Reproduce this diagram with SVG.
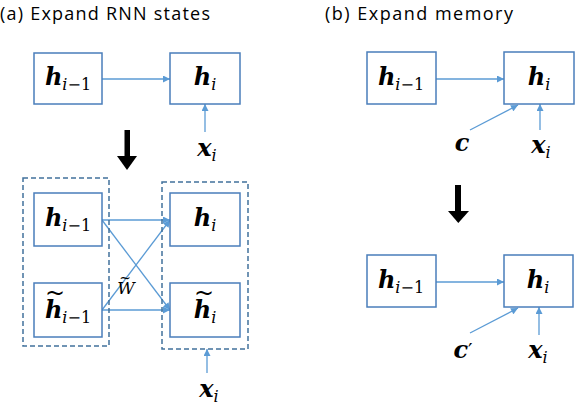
<svg xmlns="http://www.w3.org/2000/svg" width="576" height="406" viewBox="0 0 576 406">
<style>
.box{fill:#fff;stroke:#4a7ebb;stroke-width:1.5}
.dash{fill:none;stroke:#41719c;stroke-width:1.5;stroke-dasharray:5,3}
.ln{fill:none;stroke:#5b9bd5;stroke-width:1.3;marker-end:url(#ah)}
.title{font-family:"Open Sans","Liberation Sans",sans-serif;font-size:18px;fill:#000}
.m{font-family:"DejaVu Serif","Liberation Serif",serif;font-size:24px;font-weight:bold;font-style:italic;fill:#000;text-anchor:middle}
.sub{font-size:16px;font-weight:normal}
.it{font-style:italic}
.up{font-style:normal}
.tl{font-weight:normal;font-style:normal}
.big{fill:#000}
</style>
<defs>
<marker id="ah" viewBox="0 0 10 10" refX="10" refY="5" markerWidth="8" markerHeight="7" markerUnits="userSpaceOnUse" orient="auto">
<path d="M0,0 L10,5 L0,10 z" fill="#5b9bd5"/>
</marker>
</defs>
<text class="title" x="0" y="19.5" textLength="210" lengthAdjust="spacing">(a) Expand RNN states</text>
<text class="title" x="325" y="19.5" textLength="188" lengthAdjust="spacing">(b) Expand memory</text>
<g id="connectors">
<line class="ln" x1="102" y1="79" x2="170" y2="79"/>
<line class="ln" x1="205" y1="132" x2="205" y2="104"/>
<line class="ln" x1="102" y1="220" x2="170" y2="220"/>
<line class="ln" x1="102" y1="310" x2="170" y2="310"/>
<line class="ln" x1="102" y1="220" x2="170" y2="310"/>
<line class="ln" x1="102" y1="310" x2="170" y2="220"/>
<line class="ln" x1="207" y1="373" x2="207" y2="349"/>
<line class="ln" x1="436" y1="79" x2="504" y2="79"/>
<line class="ln" x1="470" y1="130" x2="518" y2="105"/>
<line class="ln" x1="540" y1="130" x2="540" y2="104"/>
<line class="ln" x1="436" y1="282" x2="504" y2="282"/>
<line class="ln" x1="470" y1="333" x2="518" y2="308"/>
<line class="ln" x1="539" y1="335" x2="539" y2="307"/>
</g>
<g id="arrow-a">
<rect class="big" x="124.5" y="130" width="5.5" height="27"/>
<polygon class="big" points="117,156 137,156 127,170"/>
</g>
<g id="arrow-b">
<rect class="big" x="455" y="185" width="6" height="27"/>
<polygon class="big" points="448,211 469,211 458.3,223"/>
</g>
<g id="group-left"><rect class="dash" x="23" y="178" width="86" height="168"/></g>
<g id="group-right"><rect class="dash" x="162" y="182" width="86" height="167"/></g>
<g id="a-h-prev">
<rect class="box" x="34" y="53" width="68" height="51"/>
<text class="m" x="68" y="85">h<tspan class="sub it" dy="5">i</tspan><tspan class="sub up">−1</tspan></text>
</g>
<g id="a-h">
<rect class="box" x="170" y="53" width="70" height="51"/>
<text class="m" x="205" y="85">h<tspan class="sub it" dy="5">i</tspan></text>
</g>
<g id="a-x"><text class="m" x="207" y="156">x<tspan class="sub it" dy="5">i</tspan></text></g>
<g id="b-h-prev">
<rect class="box" x="34" y="193" width="68" height="53"/>
<text class="m" x="68" y="226">h<tspan class="sub it" dy="5">i</tspan><tspan class="sub up">−1</tspan></text>
</g>
<g id="b-ht-prev">
<rect class="box" x="34" y="283" width="68" height="54"/>
<text class="m" x="68" y="318">h<tspan class="sub it" dy="5">i</tspan><tspan class="sub up">−1</tspan><tspan class="tl" x="55" y="301">~</tspan></text>
</g>
<g id="b-h">
<rect class="box" x="170" y="193" width="70" height="53"/>
<text class="m" x="205" y="226">h<tspan class="sub it" dy="5">i</tspan></text>
</g>
<g id="b-ht">
<rect class="box" x="170" y="283" width="70" height="54"/>
<text class="m" x="205" y="318">h<tspan class="sub it" dy="5">i</tspan><tspan class="tl" x="204" y="301">~</tspan></text>
</g>
<g id="w-label">
<text x="126" y="294" font-family="DejaVu Serif, Liberation Serif, serif" font-size="17" font-style="italic" text-anchor="middle">W<tspan x="125" y="283" font-size="14" font-style="normal">~</tspan></text>
</g>
<g id="b-x"><text class="m" x="209" y="397">x<tspan class="sub it" dy="5">i</tspan></text></g>
<g id="c-h-prev">
<rect class="box" x="367" y="52" width="69" height="52"/>
<text class="m" x="401" y="85">h<tspan class="sub it" dy="5">i</tspan><tspan class="sub up">−1</tspan></text>
</g>
<g id="c-h">
<rect class="box" x="504" y="52" width="70" height="52"/>
<text class="m" x="539" y="85">h<tspan class="sub it" dy="5">i</tspan></text>
</g>
<g id="c-c"><text class="m" x="462" y="151">c</text></g>
<g id="c-x"><text class="m" x="541" y="153">x<tspan class="sub it" dy="5">i</tspan></text></g>
<g id="d-h-prev">
<rect class="box" x="367" y="255" width="69" height="52"/>
<text class="m" x="401" y="288">h<tspan class="sub it" dy="5">i</tspan><tspan class="sub up">−1</tspan></text>
</g>
<g id="d-h">
<rect class="box" x="504" y="255" width="69" height="52"/>
<text class="m" x="538" y="288">h<tspan class="sub it" dy="5">i</tspan></text>
</g>
<g id="d-c"><text class="m" x="463" y="358">c<tspan font-weight="normal" font-style="normal" font-size="20">′</tspan></text></g>
<g id="d-x"><text class="m" x="538" y="358">x<tspan class="sub it" dy="5">i</tspan></text></g>
</svg>
